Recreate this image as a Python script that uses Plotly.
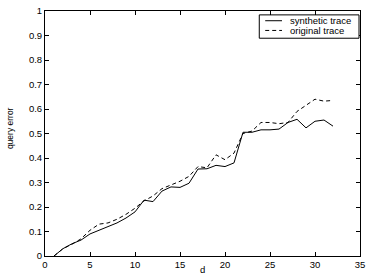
import plotly.graph_objects as go

d = list(range(1, 33))
synthetic = [0, 0.03, 0.05, 0.065, 0.09, 0.105, 0.118, 0.135, 0.155, 0.18,
             0.228, 0.222, 0.265, 0.282, 0.28, 0.297, 0.355, 0.356, 0.37, 0.365,
             0.38, 0.505, 0.505, 0.515, 0.515, 0.518, 0.545, 0.558, 0.523, 0.55,
             0.555, 0.53]
original = [0, 0.03, 0.048, 0.07, 0.105, 0.13, 0.135, 0.15, 0.17, 0.195,
            0.225, 0.245, 0.275, 0.29, 0.305, 0.325, 0.365, 0.36, 0.413, 0.393,
            0.42, 0.5, 0.51, 0.545, 0.545, 0.54, 0.545, 0.59, 0.615, 0.64,
            0.632, 0.635]
series_names = ["synthetic trace", "original trace"]
x_ticks = [0, 5, 10, 15, 20, 25, 30, 35]
y_ticks = [0, 0.1, 0.2, 0.3, 0.4, 0.5, 0.6, 0.7, 0.8, 0.9, 1]
y_tick_labels = ["0", "0.1", "0.2", "0.3", "0.4", "0.5", "0.6", "0.7", "0.8", "0.9", "1"]

W, H = 370, 275
L, R, T, B = 45, 6, 5, 18
PW, PH = W - L - R, H - T - B
FONT = "Liberation Sans, Arial, Helvetica"


def px(xpix):
    return (xpix - L) / PW


def py(ypix):
    return (H - B - ypix) / PH


fig = go.Figure()
dashes = ["solid", "4px,3px"]
for name, vals, dash in zip(series_names, [synthetic, original], dashes):
    fig.add_trace(go.Scatter(x=d, y=vals, mode="lines", name=name, showlegend=False,
                             hoverinfo="skip",
                             line=dict(color="black", width=1, dash=dash)))

axis_common = dict(showgrid=False, zeroline=False, showline=True, linecolor="black",
                   linewidth=1, mirror="ticks", ticks="inside", ticklen=4,
                   tickcolor="black",
                   tickfont=dict(family=FONT, size=9.5, color="black"))

shapes = [
    dict(type="rect", xref="paper", yref="paper", x0=px(262), x1=px(363),
         y0=py(33), y1=py(9), line=dict(color="black", width=1), fillcolor="white",
         layer="above"),
]
annotations = []
legend_rows = [15, 25]
for name, dash, yrow in zip(series_names, dashes, legend_rows):
    shapes.append(dict(type="line", xref="paper", yref="paper", x0=px(268), x1=px(285),
                       y0=py(yrow), y1=py(yrow), layer="above",
                       line=dict(color="black", width=1, dash=dash)))
    annotations.append(dict(text=name, xref="paper", yref="paper", x=px(291), y=py(yrow),
                            xanchor="left", yanchor="middle", showarrow=False,
                            font=dict(family=FONT, size=9.5, color="black")))

annotations.append(dict(text="d", xref="paper", yref="paper", x=px(204), y=py(271),
                        xanchor="center", yanchor="middle", showarrow=False,
                        font=dict(family=FONT, size=9.5, color="black")))
annotations.append(dict(text="query error", xref="paper", yref="paper", x=px(9), y=py(125),
                        xanchor="center", yanchor="middle", showarrow=False, textangle=-90,
                        font=dict(family=FONT, size=8.5, color="black")))

fig.update_layout(
    width=W, height=H,
    margin=dict(l=L, r=R, t=T, b=B),
    paper_bgcolor="white", plot_bgcolor="white",
    font=dict(family=FONT, size=9.5, color="black"),
    showlegend=False,
    hovermode=False,
    xaxis=dict(range=[0, 35], tickvals=x_ticks, **axis_common),
    yaxis=dict(range=[0, 1], tickvals=y_ticks, ticktext=y_tick_labels, **axis_common),
    shapes=shapes,
    annotations=annotations,
)

fig.write_html("out.html", config={"displayModeBar": False},
               post_script="document.body.style.margin='0';document.body.style.overflow='hidden';")
